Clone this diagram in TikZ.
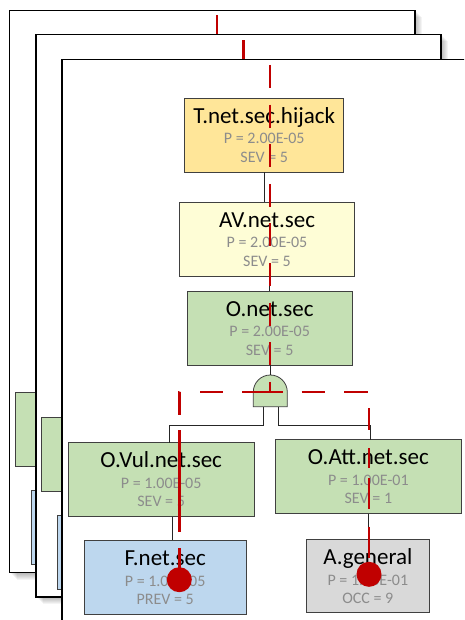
\documentclass[tikz,border=0pt]{standalone}
\usepackage{fontspec}
\setmainfont{Carlito}
\usetikzlibrary{calc}

\definecolor{boxline}{HTML}{404040}
\definecolor{valgray}{HTML}{8C8C8C}
\definecolor{topfill}{HTML}{FFE699}
\definecolor{avfill}{HTML}{FEFDD6}
\definecolor{greenfill}{HTML}{C5E0B4}
\definecolor{bluefill}{HTML}{BDD7EE}
\definecolor{grayfill}{HTML}{D9D9D9}
\definecolor{pathred}{HTML}{C00000}

\tikzset{
  sheet/.style={draw=black, line width=1.5pt, fill=white},
  fbox/.style={draw=boxline, line width=0.9pt, rectangle, inner sep=0pt, outer sep=0pt, anchor=north west},
  ttl/.style={font=\fontsize{23}{23}\selectfont, text=black, anchor=base, inner sep=0pt},
  val/.style={font=\fontsize{16}{16}\selectfont, text=valgray, anchor=base, inner sep=0pt},
  wire/.style={draw=black!85, line width=0.8pt},
  gatestyle/.style={draw=boxline, line width=0.8pt, fill=greenfill},
  trace/.style={draw=pathred, line width=2.6pt},
  traceA/.style={trace, dash pattern=on 23pt off 16.6pt},
  traceLeft/.style={trace, dash pattern=on 28.1pt off 19pt on 22.7pt off 20.7pt on 23pt off 15pt on 101.7pt off 16.6pt on 40pt off 10pt},
  traceRight/.style={trace, dash pattern=on 13.5pt off 18.4pt on 23.3pt off 19pt on 24pt off 17.3pt on 21.7pt off 18.3pt on 20pt off 10pt on 31pt off 17.4pt on 31.6pt off 5pt on 20pt off 10pt},
  reddot/.style={circle, fill=pathred, minimum size=25pt, inner sep=0pt, outer sep=0pt},
}

% fault-tree box: name, left, top, width, height, fill, title, line 1, line 2
\newcommand\ftbox[9]{%
  \node[fbox, fill=#6, minimum width=#4pt, minimum height=#5pt] (#1) at (#2,#3) {};
  \node[ttl] (#1-t) at ($(#1.north)+(0,25)$) {#7};
  \node[val] (#1-p) at ($(#1.north)+(0,45.7)$) {#8};
  \node[val] (#1-s) at ($(#1.north)+(0,64)$) {#9};
}

% soft drop shadow under a sheet: left, top, right, bottom
\newcommand\sheetshadow[4]{%
  \foreach \d in {1,...,7}{%
    \fill[black, opacity=0.045] (#1+\d,#2+\d) rectangle (#3+\d,#4+\d);
  }%
}

\begin{document}
\begin{tikzpicture}[x=1pt, y=-1pt]
\useasboundingbox (0,0) rectangle (464,620);
\clip (0,0) rectangle (464,620);

% ---- back sheet ----
\sheetshadow{9.5}{10.3}{415}{572.7}
\draw[sheet] (9.5,10.3) rectangle (415,572.7);
\node[fbox, fill=greenfill, minimum width=186.3pt, minimum height=74pt] (bkVul) at (15.4,392.9) {};
\node[fbox, fill=bluefill, minimum width=162.3pt, minimum height=74pt] (bkF) at (31.4,490.5) {};
\coordinate (bkTop) at (216.9,15.2);
\coordinate (bkBot) at (216.9,60);
\draw[traceA] (bkTop) -- (bkBot);

% ---- middle sheet ----
\sheetshadow{36}{34.5}{441}{597}
\draw[sheet] (36,34.5) rectangle (441,597);
\node[fbox, fill=greenfill, minimum width=186.3pt, minimum height=74pt] (mdVul) at (41.7,417.8) {};
\node[fbox, fill=bluefill, minimum width=162.3pt, minimum height=74pt] (mdF) at (57.7,515.4) {};
\coordinate (mdTop) at (243.2,40.1);
\coordinate (mdBot) at (243.2,80);
\draw[traceA] (mdTop) -- (mdBot);

% ---- front sheet ----
\draw[sheet] (62,59.5) rectangle (480,640);

\ftbox{T}{184.7}{98.3}{159}{74}{topfill}{T.net.sec.hijack}{P = 2.00E-05}{SEV = 5}
\ftbox{AV}{179.3}{202}{175.4}{74.3}{avfill}{AV.net.sec}{P = 2.00E-05}{SEV = 5}
\ftbox{O}{187}{291}{165.3}{74}{greenfill}{O.net.sec}{P = 2.00E-05}{SEV = 5}
\ftbox{Vul}{68}{442.7}{186.3}{74}{greenfill}{O.Vul.net.sec}{P = 1.00E-05}{SEV = 5}
\ftbox{Att}{275}{439.7}{186.7}{74}{greenfill}{O.Att.net.sec}{P = 1.00E-01}{SEV = 1}
\ftbox{F}{84}{540.3}{162.3}{74}{bluefill}{F.net.sec}{P = 1.00E-05}{PREV = 5}
\ftbox{A}{306.7}{539.3}{122.3}{73.4}{grayfill}{A.general}{P = 1.00E-01}{OCC = 9}

% AND gate
\draw[gatestyle] (253.3,406.7) -- (253.3,392)
  .. controls (253.3,382.61) and (260.91,375) .. (270.3,375)
  .. controls (279.69,375) and (287.3,382.61) .. (287.3,392)
  -- (287.3,406.7) -- cycle;
\node[inner sep=0pt, outer sep=0pt, minimum width=34pt, minimum height=31.7pt] (gate) at (270.3,390.85) {};

% connectors
\draw[wire] (T.south) -- (T.south |- AV.north);
\draw[wire] (AV.south -| O.north) -- (O.north);
\draw[wire] (O.south -| gate.north) -- (gate.north);
\draw[wire] ([xshift=-6.6pt]gate.south) -- ++(0,19) -| ([xshift=7.8pt]Vul.north);
\draw[wire] ([xshift=8.4pt]gate.south) -- ++(0,19) -| ([xshift=2.4pt]Att.north);
\draw[wire] ([xshift=11.5pt]Vul.south) -- ([xshift=11.5pt]Vul.south |- F.north);
\draw[wire] (Att.south) -- (Att.south |- A.north);

% highlighted path
\coordinate (trTop) at (269.8,65);
\coordinate (trJoin) at (269.8,392);
\coordinate (trL) at (179.3,392);
\coordinate (trR) at (369,392);
\node[reddot] (dotF) at (179.3,579.7) {};
\node[reddot] (dotA) at (369,574.3) {};
\draw[traceA] (trTop) -- (trJoin);
\draw[traceLeft] (trJoin) -- (trL) -- (dotF.center);
\draw[traceRight] (trJoin) -- (trR) -- (dotA.center);
\end{tikzpicture}
\end{document}
